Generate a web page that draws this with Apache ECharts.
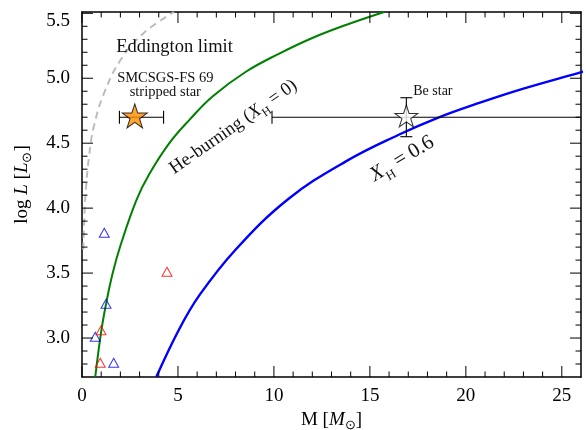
<!DOCTYPE html>
<html>
<head>
<meta charset="utf-8">
<script src="https://cdn.jsdelivr.net/npm/echarts@6/dist/echarts.min.js"></script>
<style>html,body{margin:0;padding:0;background:#fff;}#c{width:586px;height:430px;}</style>
</head>
<body>
<div id="c"></div>
<script>
// ---- data ----
const xTicks = [0, 5, 10, 15, 20, 25];
const yTicks = [3.0, 3.5, 4.0, 4.5, 5.0, 5.5];
const xRange = [0, 26];
const yRange = [2.7, 5.51];

// Eddington limit (dashed grey)
const eddM = [0.065, 0.11, 0.19, 0.36, 0.62, 1.15, 2.01, 3.23, 4.79];
const eddL = [3.68, 3.89, 4.12, 4.39, 4.63, 4.885, 5.14, 5.35, 5.51];
// He-burning X_H = 0 (green)
const heM = [0.69, 0.99, 1.25, 1.6, 2.0, 2.83, 3.5, 4.55, 5.6, 6.8, 8.54, 10.28, 12.0, 13.75, 15.74];
const heL = [2.70, 3.04, 3.26, 3.50, 3.71, 4.06, 4.26, 4.50, 4.68, 4.86, 5.05, 5.19, 5.31, 5.41, 5.51];
// X_H = 0.6 (blue)
const h6M = [3.87, 5.07, 6.12, 8.0, 10.75, 13.75, 16.5, 18.44, 20.7, 23.0, 25.85, 26.2];
const h6L = [2.70, 3.07, 3.33, 3.68, 4.07, 4.36, 4.565, 4.69, 4.81, 4.92, 5.04, 5.055];
// open triangles
const blueTriM = [1.16, 1.25, 0.69, 1.65];
const blueTriL = [3.81, 3.264, 3.01, 2.81];
const redTriM = [4.43, 0.99, 0.95];
const redTriL = [3.51, 3.06, 2.81];
// stars with error bars
const starM = [2.75, 16.9];
const starL = [4.70, 4.70];
const starMErrLo = [0.8, 7.0];
const starMErrHi = [1.5, 10.0];
const starLErrLo = [0, 0.15];
const starLErrHi = [0, 0.15];
// annotations
const noteText = [
  'Eddington limit',
  'SMCSGS-FS 69\nstripped star',
  '{n|He-burning (}{i|X}{s|H}{n| = 0)}',
  '{b|}{bi|X}{bs|H}{b| = 0.6}',
  'Be star'
];
const noteM = [1.78, 4.34, 7.89, 16.68, 17.26];
const noteL = [5.24, 4.945, 4.625, 4.38, 4.897];

// ---- build ----
const FONT = 'Liberation Serif';
const zip = (a, b) => a.map((v, i) => [v, b[i]]);

// minor tick positions (every 1 on x, every 0.1 on y), skipping majors
const xMinorTicks = [];
for (let v = 1; v < xRange[1]; v++) if (v % 5 !== 0) xMinorTicks.push(v);
const yMinorTicks = [];
for (let k = 28; k <= 54; k++) if (k % 5 !== 0) yMinorTicks.push(k / 10);
// rows: [value, axis (0 = x, 1 = y), major (1) / minor (0)]
const tickRows = [].concat(
  xTicks.map(v => [v, 0, 1]), xMinorTicks.map(v => [v, 0, 0]),
  yTicks.map(v => [v, 1, 1]), yMinorTicks.map(v => [v, 1, 0]));

const STAR = 'path://M95.11 0 L117.56 69.1 L190.22 69.1 L131.44 111.8 L153.89 180.9 L95.11 138.2 L36.33 180.9 L58.78 111.8 L0 69.1 L72.66 69.1 Z';

const subRich = {
  n: {fontFamily: FONT, fontSize: 18.5, lineHeight: 26, verticalAlign: 'middle', color: '#111'},
  i: {fontFamily: FONT, fontSize: 18.5, fontStyle: 'italic', lineHeight: 26, verticalAlign: 'middle', color: '#111'},
  s: {fontFamily: FONT, fontSize: 12, lineHeight: 25, verticalAlign: 'bottom', color: '#111'},
  b: {fontFamily: FONT, fontSize: 21, lineHeight: 30, verticalAlign: 'middle', color: '#111'},
  bi: {fontFamily: FONT, fontSize: 21, fontStyle: 'italic', lineHeight: 30, verticalAlign: 'middle', color: '#111'},
  bs: {fontFamily: FONT, fontSize: 13, lineHeight: 29, verticalAlign: 'bottom', color: '#111'}
};
const noteStyle = [
  {fontSize: 18.5, align: 'left', rot: 0},
  {fontSize: 14.5, align: 'center', rot: 0, lineHeight: 14},
  {fontSize: 18.5, align: 'center', rot: 35},
  {fontSize: 21, align: 'center', rot: 31},
  {fontSize: 14, align: 'left', rot: 0}
];

const TICKFONT = 19;
function baseAxis(pos, range) {
  return {
    type: 'value', position: pos, min: range[0], max: range[1], gridIndex: 0,
    axisLine: {show: true, onZero: false, lineStyle: {color: '#000', width: 1.5}},
    splitLine: {show: false},
    axisTick: {show: false},
    axisLabel: {show: false}
  };
}

const titleStyle = {fontFamily: FONT, fontSize: 19, color: '#000', rich: {
  i: {fontFamily: FONT, fontSize: 19, fontStyle: 'italic', lineHeight: 24, verticalAlign: 'middle', color: '#000'},
  s: {fontFamily: FONT, fontSize: 13, lineHeight: 24, verticalAlign: 'bottom', color: '#000'}}};

const xLabelAxis = baseAxis('bottom', xRange);
xLabelAxis.axisLabel = {show: true, customValues: xTicks, margin: 10, color: '#000', fontFamily: FONT, fontSize: TICKFONT};
Object.assign(xLabelAxis, {name: 'M [{i|M}{s|⊙}]', nameLocation: 'middle', nameGap: 30, nameTextStyle: titleStyle});

const yLabelAxis = baseAxis('left', yRange);
yLabelAxis.axisLabel = {
  show: true, customValues: yTicks, margin: 12, color: '#000', fontFamily: FONT, fontSize: TICKFONT,
  formatter: v => Math.abs(v - 5.5) < 1e-6 ? '{t|5.5}' : v.toFixed(1),
  rich: {t: {fontFamily: FONT, fontSize: TICKFONT, color: '#000', padding: [15, 0, 0, 0]}}
};
Object.assign(yLabelAxis, {name: 'log {i|L} [{i|L}{s|⊙}]', nameLocation: 'middle', nameRotate: 90, nameGap: 48,
  nameTextStyle: Object.assign({}, titleStyle, {padding: [0, 0, 0, 20]})});

const errData = starM.map((m, i) => [m, starL[i], starMErrLo[i], starMErrHi[i], starLErrLo[i], starLErrHi[i]]);

const option = {
  animation: false,
  backgroundColor: '#fff',
  grid: {left: 82, right: 5, top: 12, bottom: 53, containLabel: false, outerBoundsMode: 'none'},
  xAxis: [xLabelAxis, baseAxis('top', xRange)],
  yAxis: [yLabelAxis, baseAxis('right', yRange)],
  series: [
    // inward ticks on all four sides, placed through the axes' scales
    {type: 'custom', data: tickRows, z: 10, silent: true, clip: false,
     renderItem: function (params, api) {
       const cs = params.coordSys;
       const v = api.value(0), isY = api.value(1), major = api.value(2);
       const len = major ? 11 : 5.5;
       const st = {stroke: '#000', lineWidth: 1};
       if (!isY) {
         const px = api.coord([v, yRange[0]])[0];
         const yb = cs.y + cs.height, yt = cs.y;
         return {type: 'group', children: [
           {type: 'line', shape: {x1: px, y1: yb, x2: px, y2: yb - len}, style: st},
           {type: 'line', shape: {x1: px, y1: yt, x2: px, y2: yt + len}, style: st}]};
       }
       const py = api.coord([xRange[0], v])[1];
       const xl = cs.x, xr = cs.x + cs.width;
       return {type: 'group', children: [
         {type: 'line', shape: {x1: xl, y1: py, x2: xl + len, y2: py}, style: st},
         {type: 'line', shape: {x1: xr, y1: py, x2: xr - len, y2: py}, style: st}]};
     }},
    {type: 'line', data: zip(eddM, eddL), smooth: 0.4, showSymbol: false, symbol: 'none',
     lineStyle: {color: '#bdbdbd', width: 2, type: [7, 5]}, z: 2},
    {type: 'line', data: zip(heM, heL), smooth: 0.4, showSymbol: false, symbol: 'none',
     lineStyle: {color: '#008000', width: 2}, z: 2},
    {type: 'line', data: zip(h6M, h6L), smooth: 0.4, showSymbol: false, symbol: 'none',
     lineStyle: {color: '#0000ff', width: 2.4}, z: 2},
    {type: 'scatter', data: zip(blueTriM, blueTriL), symbol: 'triangle', symbolSize: [10, 9],
     itemStyle: {color: 'rgba(0,0,0,0)', borderColor: '#0000ff', borderWidth: 1}, z: 3},
    {type: 'scatter', data: zip(redTriM, redTriL), symbol: 'triangle', symbolSize: [10, 9],
     itemStyle: {color: 'rgba(0,0,0,0)', borderColor: '#ff0000', borderWidth: 1}, z: 3},
    {type: 'custom', data: errData, z: 4,
     renderItem: function (params, api) {
       const cs = params.coordSys;
       const x = api.value(0), y = api.value(1);
       const xl = api.value(2), xh = api.value(3), yl = api.value(4), yh = api.value(5);
       const c = api.coord([x, y]);
       const kids = [];
       const st = {stroke: '#000', lineWidth: 1.1};
       if (xl > 0 || xh > 0) {
         const a = api.coord([x - xl, y]), b = api.coord([x + xh, y]);
         const ax = Math.max(a[0], cs.x), bx = Math.min(b[0], cs.x + cs.width);
         kids.push({type: 'line', shape: {x1: ax, y1: c[1], x2: bx, y2: c[1]}, style: st});
         if (a[0] >= cs.x) kids.push({type: 'line', shape: {x1: a[0], y1: c[1] - 6.5, x2: a[0], y2: c[1] + 6.5}, style: st});
         if (b[0] <= cs.x + cs.width) kids.push({type: 'line', shape: {x1: b[0], y1: c[1] - 6.5, x2: b[0], y2: c[1] + 6.5}, style: st});
       }
       if (yl > 0 || yh > 0) {
         const a = api.coord([x, y - yl]), b = api.coord([x, y + yh]);
         kids.push({type: 'line', shape: {x1: c[0], y1: a[1], x2: c[0], y2: b[1]}, style: st});
         kids.push({type: 'line', shape: {x1: c[0] - 6, y1: a[1], x2: c[0] + 6, y2: a[1]}, style: st});
         kids.push({type: 'line', shape: {x1: c[0] - 6, y1: b[1], x2: c[0] + 6, y2: b[1]}, style: st});
       }
       return {type: 'group', children: kids};
     }},
    {type: 'scatter', data: [[starM[0], starL[0]]], symbol: STAR, symbolSize: [25, 24], symbolOffset: [0, -1.3],
     itemStyle: {color: '#ff8c00', borderColor: '#000', borderWidth: 1}, z: 6},
    {type: 'scatter', data: [[starM[1], starL[1]]], symbol: STAR, symbolSize: [23, 22], symbolOffset: [0, -1.2],
     itemStyle: {color: '#ffffff', borderColor: '#000', borderWidth: 1}, z: 6},
    {type: 'custom', data: noteM.map((m, i) => [m, noteL[i], i]), z: 7,
     renderItem: function (params, api) {
       const i = api.value(2);
       const p = api.coord([api.value(0), api.value(1)]);
       const s = noteStyle[i];
       return {type: 'text', x: p[0], y: p[1], rotation: s.rot * Math.PI / 180,
         style: {text: noteText[i], fill: '#111', fontFamily: FONT, fontSize: s.fontSize,
           lineHeight: s.lineHeight || undefined,
           align: s.align, verticalAlign: 'middle', rich: subRich}};
     }}
  ]
};
const chart = echarts.init(document.getElementById('c'), null, {renderer: 'canvas'});
chart.setOption(option);
</script>
</body>
</html>
